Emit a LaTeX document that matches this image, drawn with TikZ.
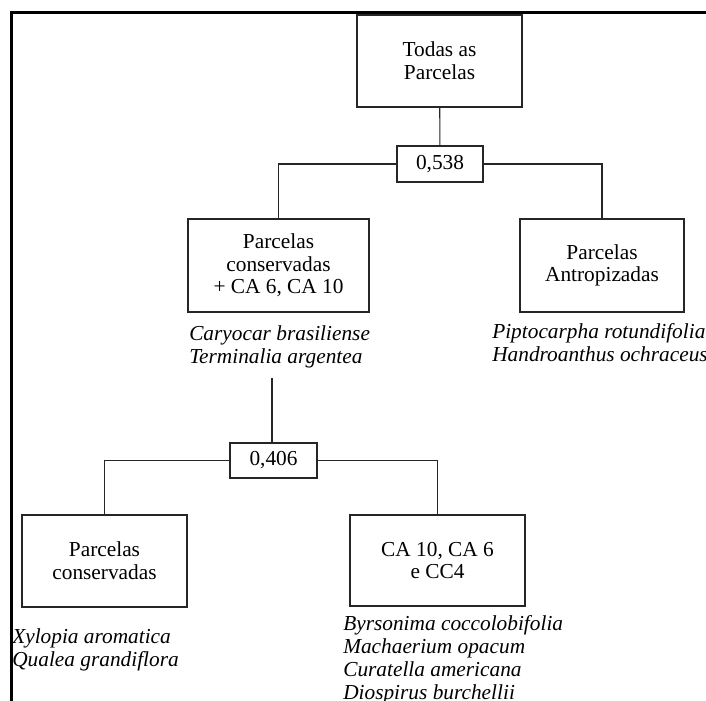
\documentclass[tikz,border=0pt]{standalone}
\usepackage{fontspec}
\setmainfont{Liberation Serif}
\usetikzlibrary{positioning}

\begin{document}
\begin{tikzpicture}
  [x=0.75pt,y=-0.75pt,
   group node/.style={draw=black!85,line width=0.9pt,align=center,inner sep=0pt,font=\fontsize{16}{17}\selectfont},
   cut node/.style={draw=black!85,line width=1.1pt,inner sep=0pt,font=\fontsize{16}{17}\selectfont},
   species/.style={align=left,inner sep=0pt,font=\fontsize{16}{17.25}\selectfont\itshape},
   link/.style={draw=black!85,line width=0.8pt}]
  \useasboundingbox (0,0) rectangle (706,700);
  \clip (0,0) rectangle (706,700);
  \fill[white] (0,0) rectangle (706,700);

  % frame
  \draw[line width=2.25pt] (11,720) |- (720,12.7);

  % groups
  \node[group node,minimum width=123.75pt,minimum height=69pt] (all) at (439.5,61) {Todas as\\Parcelas};
  \node[cut node,minimum width=64.5pt,minimum height=27pt] (cut1) at (440,164) {0,538};
  \node[group node,minimum width=135.75pt,minimum height=69.75pt] (cons1) at (278.5,265.5) {Parcelas\\conservadas\\+ CA 6, CA 10};
  \node[group node,minimum width=123pt,minimum height=69.75pt] (antr) at (602,265.5) {Parcelas\\Antropizadas};
  \node[cut node,minimum width=65.25pt,minimum height=26.25pt] (cut2) at (273.5,460.5) {0,406};
  \node[group node,minimum width=123.75pt,minimum height=69pt] (cons2) at (104.5,561) {Parcelas\\conservadas};
  \node[group node,minimum width=131.25pt,minimum height=68.25pt] (ca) at (437.5,560.5) {CA 10, CA 6\\e CC4};

  % species (anchor on the last line)
  \node[species,anchor=base west] (sp1) at (189,363) {Caryocar brasiliense\\Terminalia argentea};
  \node[species,anchor=base west] (sp2) at (492,361) {Piptocarpha rotundifolia\\Handroanthus ochraceus};
  \node[species,anchor=base west] (sp3) at (12,666) {Xylopia aromatica\\Qualea grandiflora};
  \node[species,anchor=base west] (sp4) at (343,699) {Byrsonima coccolobifolia\\Machaerium opacum\\Curatella americana\\Diospirus burchellii};

  % links
  \coordinate (stem) at (272,378);
  \draw[link] (all) -- (cut1);
  \draw[link] (cut1.west) -| (cons1.north);
  \draw[link] (cut1.east) -| (antr.north);
  \draw[link] (stem) -- (stem |- cut2.north);
  \draw[link] (cut2.west) -| (cons2.north);
  \draw[link] (cut2.east) -| (ca.north);
\end{tikzpicture}
\end{document}
